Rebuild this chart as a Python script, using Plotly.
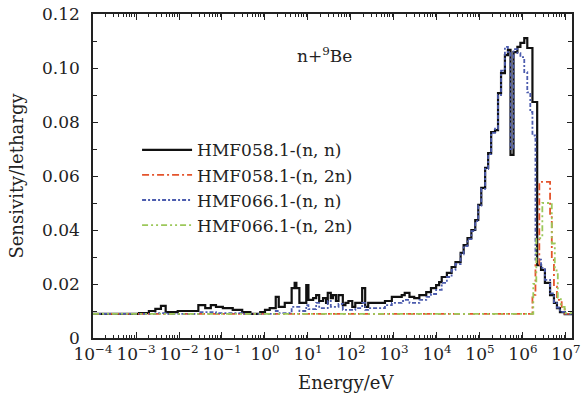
import plotly.graph_objects as go

# log10(energy / eV) of group lower edges, and sensitivity per lethargy
E_MAX_LOG = 7.14

hmf058_nn_logE = [-4.00, -2.93, -2.70, -2.55, -2.42, -2.31, -2.03, -1.55, -1.39, -1.26, -1.14, -0.98,
                  -0.75, -0.53, -0.34, -0.11, 0.00, 0.11, 0.25, 0.32, 0.46, 0.62, 0.69, 0.73, 0.80,
                  0.96, 1.01, 1.12, 1.19, 1.26, 1.35, 1.42, 1.46, 1.53, 1.58, 1.65, 1.71, 1.81, 1.87,
                  1.94, 2.03, 2.10, 2.26, 2.33, 2.40, 2.79, 2.95, 3.18, 3.25, 3.36, 3.47, 3.59, 3.75,
                  3.86, 3.98, 4.05, 4.11, 4.23, 4.34, 4.43, 4.55, 4.62, 4.71, 4.80, 4.89, 4.96, 5.03,
                  5.12, 5.19, 5.26, 5.35, 5.42, 5.49, 5.58, 5.65, 5.71, 5.78, 5.87, 5.94, 6.03, 6.10,
                  6.22, 6.33, 6.42, 6.51, 6.63, 6.72, 6.79, 6.86, 6.97]
hmf058_nn_val = [0.0089, 0.0092, 0.0100, 0.0108, 0.0119, 0.0096, 0.0100, 0.0122, 0.0111, 0.0122, 0.0115, 0.0111,
                 0.0104, 0.0096, 0.0089, 0.0096, 0.0104, 0.0111, 0.0152, 0.0115, 0.0130, 0.0185, 0.0204, 0.0185, 0.0130,
                 0.0196, 0.0141, 0.0148, 0.0159, 0.0137, 0.0148, 0.0130, 0.0167, 0.0148, 0.0159, 0.0137, 0.0159, 0.0122, 0.0130,
                 0.0137, 0.0115, 0.0130, 0.0185, 0.0115, 0.0130, 0.0137, 0.0152, 0.0159, 0.0167, 0.0152, 0.0148, 0.0159, 0.0170,
                 0.0185, 0.0196, 0.0207, 0.0226, 0.0241, 0.0263, 0.0281, 0.0315, 0.0344, 0.0370, 0.0400, 0.0437, 0.0493, 0.0556,
                 0.0630, 0.0685, 0.0763, 0.0770, 0.0907, 0.0981, 0.1048, 0.1067, 0.0678, 0.1059, 0.1078, 0.1093, 0.1111, 0.1074,
                 0.0874, 0.0270, 0.0252, 0.0204, 0.0159, 0.0130, 0.0111, 0.0096, 0.0088]

hmf058_n2n_logE = [-4.00, 6.22, 6.29, 6.38, 6.63, 6.67, 6.72, 6.79, 6.90, 6.97]
hmf058_n2n_val = [0.0089, 0.0160, 0.0270, 0.0578, 0.0448, 0.0289, 0.0190, 0.0141, 0.0115, 0.0089]

hmf066_nn_logE = [-4.00, -2.55, -2.31, -1.55, -1.14, -0.53, 0.25, 0.32, 0.62, 0.80, 0.96, 1.01, 1.19, 1.26,
                  1.46, 1.53, 1.71, 1.81, 2.10, 2.26, 2.33, 2.40, 2.79, 2.95, 3.18, 3.25, 3.36, 3.59, 3.75,
                  3.86, 3.98, 4.11, 4.23, 4.34, 4.43, 4.55, 4.62, 4.71, 4.80, 4.89, 4.96, 5.03, 5.12, 5.19,
                  5.26, 5.35, 5.42, 5.49, 5.58, 5.65, 5.71, 5.78, 5.87, 5.94, 6.03, 6.10, 6.17, 6.22, 6.29,
                  6.42, 6.51, 6.63, 6.72, 6.79, 6.86, 6.97]
hmf066_nn_val = [0.0089, 0.0092, 0.0089, 0.0096, 0.0092, 0.0089, 0.0100, 0.0092, 0.0115, 0.0100, 0.0122, 0.0107, 0.0130, 0.0111,
                 0.0137, 0.0115, 0.0126, 0.0104, 0.0111, 0.0130, 0.0104, 0.0111, 0.0122, 0.0130, 0.0137, 0.0141, 0.0130, 0.0141, 0.0152,
                 0.0163, 0.0178, 0.0204, 0.0226, 0.0252, 0.0274, 0.0310, 0.0340, 0.0366, 0.0396, 0.0433, 0.0490, 0.0552, 0.0626, 0.0681,
                 0.0760, 0.0775, 0.0900, 0.0990, 0.1078, 0.1055, 0.0700, 0.1070, 0.1055, 0.1040, 0.0985, 0.0910, 0.0837, 0.0750, 0.0290,
                 0.0260, 0.0215, 0.0165, 0.0133, 0.0113, 0.0097, 0.0089]

hmf066_n2n_logE = [-4.00, 6.24, 6.31, 6.45, 6.67, 6.74, 6.81, 6.88, 6.97]
hmf066_n2n_val = [0.0089, 0.0200, 0.0370, 0.0500, 0.0350, 0.0250, 0.0150, 0.0115, 0.0092]

names = ["HMF058.1-(n, n)", "HMF058.1-(n, 2n)", "HMF066.1-(n, n)", "HMF066.1-(n, 2n)"]

x_tickvals = [1e-4, 1e-3, 1e-2, 1e-1, 1e0, 1e1, 1e2, 1e3, 1e4, 1e5, 1e6, 1e7]
x_ticktext = ["10<sup>−4</sup>", "10<sup>−3</sup>", "10<sup>−2</sup>", "10<sup>−1</sup>", "10<sup>0</sup>",
              "10<sup>1</sup>", "10<sup>2</sup>", "10<sup>3</sup>", "10<sup>4</sup>", "10<sup>5</sup>",
              "10<sup>6</sup>", "10<sup>7</sup>"]
y_tickvals = [0, 0.02, 0.04, 0.06, 0.08, 0.10, 0.12]
y_ticktext = ["0", "0.02", "0.04", "0.06", "0.08", "0.10", "0.12"]

FONT = "DejaVu Serif"
INK = "#222"


def steps(logE, vals):
    xs = [10 ** v for v in logE] + [10 ** E_MAX_LOG]
    ys = list(vals) + [vals[-1]]
    return xs, ys


series = [
    (hmf058_nn_logE, hmf058_nn_val, dict(color="#111111", width=2.2, dash="solid")),
    (hmf058_n2n_logE, hmf058_n2n_val, dict(color="#e4542c", width=1.8, dash="7px,3px,2px,3px")),
    (hmf066_nn_logE, hmf066_nn_val, dict(color="#4c5cae", width=1.8, dash="4px,2px,2px,2px")),
    (hmf066_n2n_logE, hmf066_n2n_val, dict(color="#9cc85a", width=1.8, dash="6px,3px,2px,3px,2px,3px")),
]

fig = go.Figure()
for (le, v, ln), nm in zip(series, names):
    xs, ys = steps(le, v)
    fig.add_trace(go.Scatter(x=xs, y=ys, mode="lines", name=nm, line=dict(shape="hv", **ln)))

fig.update_layout(
    width=583, height=394,
    margin=dict(l=93, r=3, t=14, b=56),
    paper_bgcolor="white", plot_bgcolor="white",
    font=dict(family=FONT, size=16, color=INK),
    showlegend=True,
    legend=dict(x=0.092, y=0.635, xanchor="left", yanchor="top", bgcolor="rgba(255,255,255,0)",
                font=dict(family=FONT, size=17, color=INK), tracegroupgap=0, itemwidth=50),
    annotations=[
        dict(text="n+<sup>9</sup>Be", x=0.483, y=0.915, xref="paper", yref="paper",
             showarrow=False, font=dict(family=FONT, size=17, color=INK)),
        dict(text="Energy/eV", x=0.528, y=-0.136, xref="paper", yref="paper", yanchor="middle",
             showarrow=False, font=dict(family=FONT, size=18, color=INK)),
    ],
)

fig.update_xaxes(
    type="log", range=[-4, E_MAX_LOG],
    tickvals=x_tickvals, ticktext=x_ticktext, tickangle=0,
    ticks="inside", ticklen=6, tickwidth=1.2, tickcolor=INK,
    minor=dict(ticks="inside", ticklen=3, tickcolor=INK, dtick="D1", showgrid=False),
    showline=True, linecolor=INK, linewidth=1.5, mirror="allticks",
    showgrid=False, zeroline=False,
    ticklabeloverflow="allow",
    tickfont=dict(family=FONT, size=17, color=INK),
)
fig.update_yaxes(
    range=[0, 0.12],
    tickvals=y_tickvals, ticktext=y_ticktext,
    ticks="inside", ticklen=5, tickwidth=1.2, tickcolor=INK,
    minor=dict(ticks="inside", ticklen=4, tickcolor=INK, tickvals=[0.01, 0.03, 0.05, 0.07, 0.09, 0.11]),
    showline=True, linecolor=INK, linewidth=1.5, mirror="allticks",
    showgrid=False, zeroline=False,
    ticklabelstandoff=8,
    title=dict(text="Sensivity/lethargy", font=dict(family=FONT, size=18, color=INK), standoff=14),
    tickfont=dict(family=FONT, size=17, color=INK),
)

fig.write_html("out.html")
